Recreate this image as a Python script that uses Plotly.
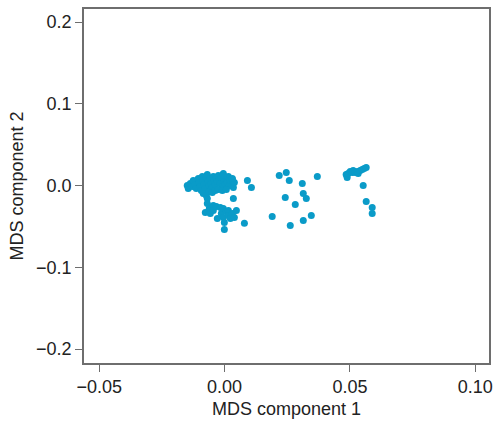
import plotly.graph_objects as go

# MDS component 1 / component 2 values, by visual group
upper_x = [-0.0149, -0.0145, -0.0137, -0.0129, -0.0125, -0.0117, -0.0113, -0.0105, -0.0101, -0.0097,
           -0.0093, -0.0089, -0.0085, -0.0081, -0.0077, -0.0073, -0.0069, -0.0065, -0.0061, -0.0057,
           -0.0053, -0.0049, -0.0045, -0.0041, -0.0037, -0.0033, -0.0029, -0.0025, -0.0021, -0.0017,
           -0.0013, -0.0009, -0.0005, -0.0001, 0.0003, 0.0007, 0.0011, 0.0015, 0.0019, 0.0023,
           0.0031, 0.0035, 0.0039, -0.0085, -0.0073, -0.0069, -0.0061, -0.0049, -0.0037, -0.0025,
           -0.0009, 0.0007, 0.0035, 0.0091, 0.0107, -0.0005, 0.0031]
upper_y = [0.0000, -0.0037, 0.0024, -0.0012, 0.0061, 0.0012, -0.0037, 0.0085, 0.0037, -0.0012,
           -0.0061, 0.0110, 0.0061, 0.0012, -0.0037, 0.0098, 0.0134, 0.0049, 0.0000, 0.0085,
           0.0024, -0.0024, 0.0110, 0.0061, 0.0012, 0.0098, 0.0049, 0.0122, 0.0073, 0.0024,
           0.0098, -0.0012, 0.0146, 0.0061, 0.0012, 0.0085, 0.0037, 0.0110, 0.0000, 0.0061,
           0.0073, -0.0024, 0.0037, -0.0098, -0.0122, -0.0159, -0.0073, -0.0085, -0.0061, -0.0049,
           -0.0061, -0.0049, -0.0159, 0.0061, -0.0024, 0.0122, 0.0085]

lower_x = [-0.0077, -0.0069, -0.0061, -0.0057, -0.0045, -0.0045, -0.0033, -0.0029, -0.0017, -0.0013,
           -0.0005, -0.0005, -0.0001, 0.0007, 0.0015, 0.0015, 0.0023, 0.0031, 0.0039, 0.0047,
           -0.0001, 0.0079, 0.0190]
lower_y = [-0.0329, -0.0220, -0.0280, -0.0341, -0.0244, -0.0305, -0.0256, -0.0402, -0.0268, -0.0341,
           -0.0280, -0.0390, -0.0451, -0.0317, -0.0305, -0.0366, -0.0402, -0.0341, -0.0390, -0.0305,
           -0.0537, -0.0463, -0.0378]

middle_x = [0.0218, 0.0246, 0.0258, 0.0310, 0.0370, 0.0242, 0.0314, 0.0326, 0.0282, 0.0262, 0.0314, 0.0346]
middle_y = [0.0122, 0.0159, 0.0061, 0.0024, 0.0110, -0.0146, -0.0098, -0.0159, -0.0232, -0.0488, -0.0427, -0.0366]

right_x = [0.0489, 0.0485, 0.0493, 0.0501, 0.0509, 0.0513, 0.0521, 0.0529, 0.0533, 0.0541,
           0.0549, 0.0557, 0.0565, 0.0553, 0.0565, 0.0589, 0.0589]
right_y = [0.0098, 0.0134, 0.0146, 0.0171, 0.0159, 0.0183, 0.0159, 0.0171, 0.0146, 0.0183,
           0.0195, 0.0207, 0.0220, 0.0000, -0.0195, -0.0268, -0.0341]

x_ticks = [-0.05, 0.00, 0.05, 0.10]
x_tick_labels = ["\u22120.05", "0.00", "0.05", "0.10"]
y_ticks = [-0.2, -0.1, 0.0, 0.1, 0.2]
y_tick_labels = ["\u22120.2", "\u22120.1", "0.0", "0.1", "0.2"]

xs = upper_x + lower_x + middle_x + right_x
ys = upper_y + lower_y + middle_y + right_y

fig = go.Figure()
fig.add_trace(go.Scatter(
    x=xs, y=ys, mode="markers",
    marker=dict(color="#0a9bc8", size=7, line=dict(width=0)),
    showlegend=False, hoverinfo="skip",
))

FONT = "Liberation Sans, Arial, sans-serif"
axis_common = dict(
    showgrid=False, zeroline=False, showline=True, mirror=True, automargin=False,
    linecolor="#6e6e6e", linewidth=1.5,
    ticks="outside", ticklen=7, tickwidth=1.2, tickcolor="#6e6e6e",
    tickfont=dict(family=FONT, size=18, color="#222"),
    title_font=dict(family=FONT, size=18, color="#222"),
)

fig.update_xaxes(range=[-0.0561, 0.1055], tickvals=x_ticks, ticktext=x_tick_labels,
                 title_text="MDS component 1", title_standoff=6, **axis_common)
fig.update_yaxes(range=[-0.2171, 0.2159], tickvals=y_ticks, ticktext=y_tick_labels,
                 title_text="MDS component 2", title_standoff=8, **axis_common)

fig.update_layout(
    width=495, height=428,
    margin=dict(l=84, r=6, t=9, b=65),
    plot_bgcolor="white", paper_bgcolor="white",
)

# remove the browser's default page margin so the figure fills the window exactly
fig.write_html(
    "out.html",
    config={"displayModeBar": False},
    post_script="document.body.style.margin='0';document.body.style.overflow='hidden';",
)
